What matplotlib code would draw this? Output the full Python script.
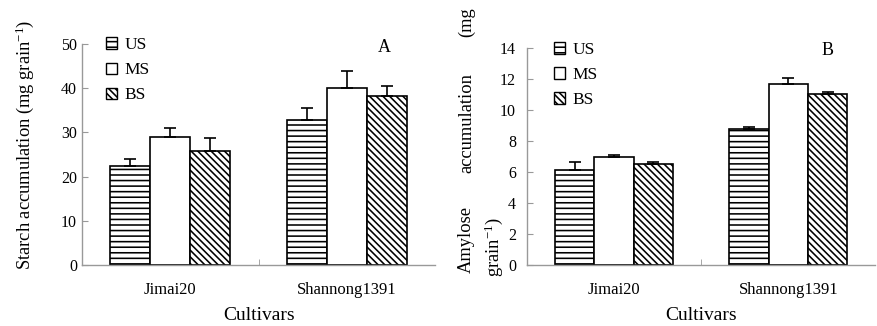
import numpy as np
import matplotlib
matplotlib.use("Agg")
import matplotlib.pyplot as plt

plt.rcParams["font.family"] = ["Liberation Serif", "DejaVu Serif"]
plt.rcParams["mathtext.fontset"] = "custom"
plt.rcParams["mathtext.rm"] = "Liberation Serif"
plt.rcParams["mathtext.it"] = "Liberation Serif:italic"
plt.rcParams["hatch.linewidth"] = 1.15

cultivars = ["Jimai20", "Shannong1391"]
treatments = ["US", "MS", "BS"]
hatches = ["---", "", "\\\\\\\\\\"]

starch = {"US": [22.3, 32.8], "MS": [29.0, 40.1], "BS": [25.9, 38.2]}
starch_err = {"US": [1.8, 2.8], "MS": [2.0, 3.8], "BS": [2.8, 2.3]}

amylose = {"US": [6.14, 8.8], "MS": [6.98, 11.69], "BS": [6.5, 11.03]}
amylose_err = {"US": [0.5, 0.13], "MS": [0.15, 0.42], "BS": [0.15, 0.14]}

fig = plt.figure(figsize=(8.77, 3.26), dpi=100)
ax1 = fig.add_axes([0.0935, 0.187, 0.403, 0.678])
ax2 = fig.add_axes([0.601, 0.187, 0.397, 0.665])


def draw_panel(ax, values, errs, ymax, step, ypad, leg_x):
    x = np.arange(len(cultivars))
    w = 0.226
    for i, t in enumerate(treatments):
        pos = x + (i - 1) * w
        ax.bar(pos, values[t], w, color="white", edgecolor="black",
               linewidth=1.2, hatch=hatches[i], label=t, zorder=2)
        ax.errorbar(pos, values[t], yerr=[np.zeros(len(x)), errs[t]],
                    fmt="none", ecolor="black", elinewidth=1.2,
                    capsize=4, capthick=1.2, zorder=3)
    ax.set_xlim(-0.5, 1.5)
    ax.set_ylim(0, ymax)
    ax.set_yticks(np.arange(0, ymax + step / 2, step))
    ax.set_xticks(x)
    ax.set_xticklabels(cultivars, fontsize=12)
    ax.set_xticks([0.5], minor=True)
    ax.tick_params(axis="x", which="major", length=0, pad=12)
    ax.tick_params(axis="x", which="minor", length=4, direction="in",
                   color="#999999")
    ax.tick_params(axis="y", labelsize=11.5, length=4.5, direction="in",
                   color="#999999", pad=ypad)
    for s in ["top", "right"]:
        ax.spines[s].set_visible(False)
    for s in ["left", "bottom"]:
        ax.spines[s].set_color("#999999")
        ax.spines[s].set_linewidth(1.0)
    ax.set_xlabel("Cultivars", fontsize=14, labelpad=7)
    leg = ax.legend(loc="upper left", bbox_to_anchor=(leg_x, 1.085),
                    frameon=False, fontsize=12.5, handlelength=0.65,
                    handleheight=0.65, handletextpad=0.4,
                    labelspacing=0.52, borderaxespad=0.3)
    for p in leg.get_patches():
        p.set_linewidth(1.0)


draw_panel(ax1, starch, starch_err, 50, 10, 3.5, 0.034)
draw_panel(ax2, amylose, amylose_err, 14, 2, 8, 0.043)

fig.text(0.0285, 0.555, "Starch accumulation (mg grain$^{-1}$)",
         rotation=90, fontsize=13.3, ha="center", va="center")
ax1.text(0.856, 0.986, "A", transform=ax1.transAxes, fontsize=13,
         ha="center", va="center")
ax2.text(0.862, 0.988, "B", transform=ax2.transAxes, fontsize=13,
         ha="center", va="center")

# right panel y label is split over two columns as in the original
fig.text(0.532, 0.163, "Amylose", rotation=90, fontsize=13.3,
         ha="center", va="bottom")
fig.text(0.532, 0.624, "accumulation", rotation=90, fontsize=13.3,
         ha="center", va="center")
fig.text(0.532, 0.979, "(mg", rotation=90, fontsize=13.3,
         ha="center", va="top")
fig.text(0.563, 0.15, "grain$^{-1}$)", rotation=90, fontsize=13.3,
         ha="center", va="bottom")

fig.savefig("out.png", dpi=100)
